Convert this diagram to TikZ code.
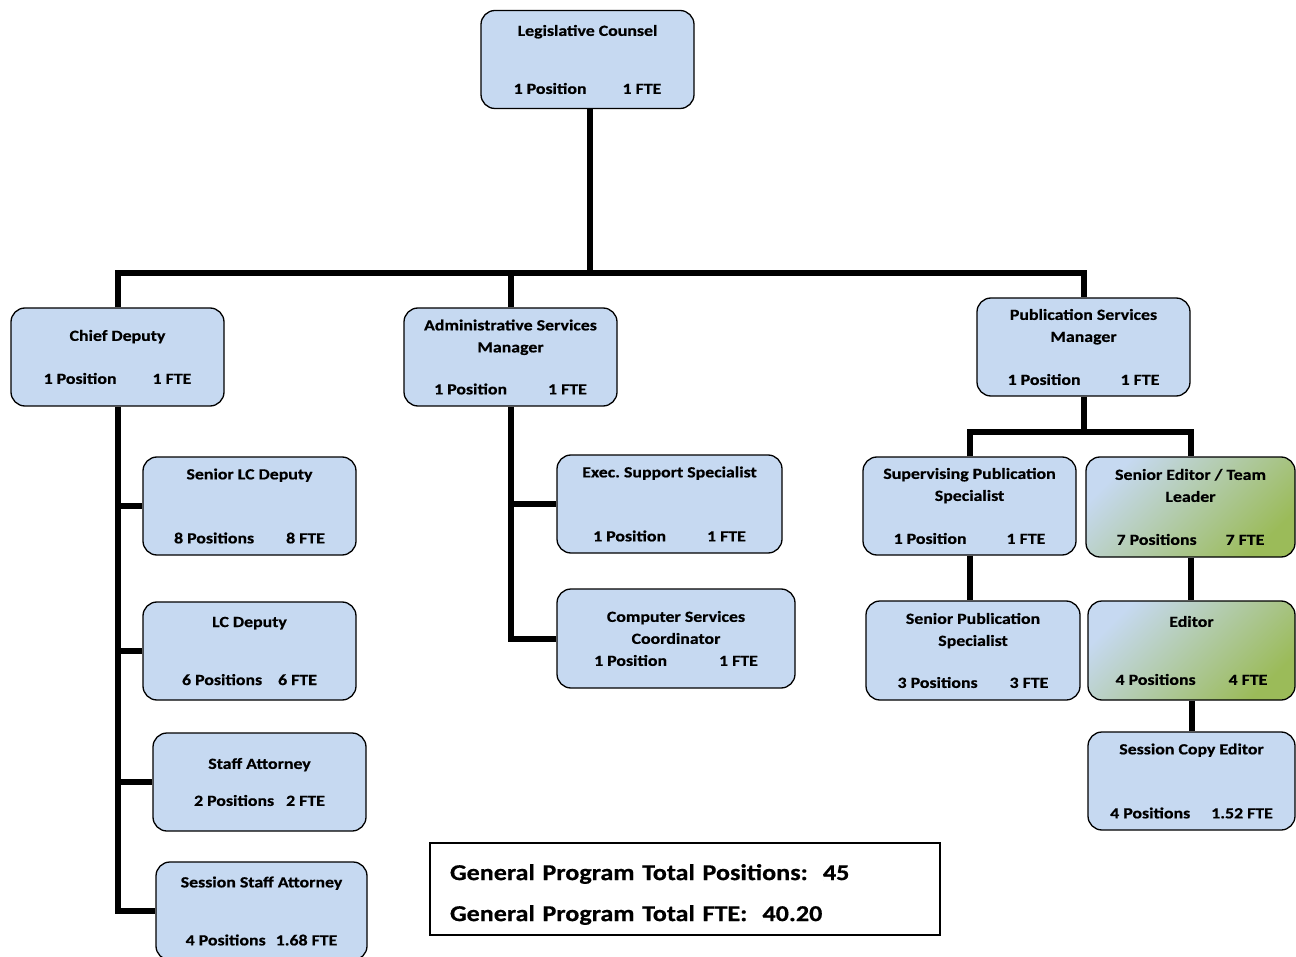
\documentclass[tikz,border=0pt]{standalone}
\usepackage{fontspec}
\setmainfont{Carlito}[FakeStretch=1.15, BoldFeatures={FakeBold=0.6}]
\frenchspacing
\definecolor{boxblue}{HTML}{C6D9F1}
\definecolor{boxgreen}{HTML}{9BBB59}
\tikzset{
  orgbox/.style={draw, line width=1.3pt, rounded corners=14pt, fill=boxblue,
    align=center, inner sep=0pt, minimum width=213pt, minimum height=98pt,
    font=\fontsize{15.5}{22}\selectfont\bfseries},
  greenbox/.style={orgbox, top color=boxblue, bottom color=boxgreen, shading angle=45},
  link/.style={line width=6pt},
  totals/.style={draw, line width=1.3pt, align=left, inner xsep=20pt, inner ysep=0pt,
    text width=470pt, minimum height=92pt, font=\fontsize{22.7}{41}\selectfont\bfseries},
}

\begin{document}
\begin{tikzpicture}[x=1pt, y=-1pt]
	\useasboundingbox (0,0) rectangle (1296,957);

	% top
	\node[orgbox] (lc) at (587.5,59.5) {Legislative Counsel\\[36pt]1 Position\hspace{36pt}1 FTE};

	% second row
	\node[orgbox] (cd) at (117.5,357) {Chief Deputy\\[21pt]1 Position\hspace{36pt}1 FTE};
	\node[orgbox] (asm) at (510.5,357) {Administrative Services\\Manager\\[20pt]1 Position\hspace{41pt}1 FTE};
	\node[orgbox] (psm) at (1083.5,347) {Publication Services\\Manager\\[21pt]1 Position\hspace{40pt}1 FTE};

	% chief deputy staff
	\node[orgbox] (slc) at (249.5,506) {Senior LC Deputy\\[42pt]8 Positions\hspace{32pt}8 FTE};
	\node[orgbox] (lcd) at (249.5,651) {LC Deputy\\[36pt]6 Positions\hspace{16pt}6 FTE};
	\node[orgbox] (sa) at (259.5,782) {Staff Attorney\\[15pt]2 Positions\hspace{12pt}2 FTE};
	\node[orgbox, minimum width=211pt] (ssa) at (261.5,911) {Session Staff Attorney\\[36pt]4 Positions\hspace{10pt}1.68 FTE};

	% administrative staff
	\node[orgbox, minimum width=225pt] (esp) at (669.5,504) {Exec. Support Specialist\\[42pt]1 Position\hspace{41pt}1 FTE};
	\node[orgbox, minimum width=238pt, minimum height=99pt] (csc) at (676,638.5) {Computer Services\\Coordinator\\1 Position\hspace{52pt}1 FTE};

	% publication staff
	\node[orgbox] (sps) at (969.5,506) {Supervising Publication\\Specialist\\[21pt]1 Position\hspace{40pt}1 FTE};
	\node[greenbox, minimum width=209pt, minimum height=100pt] (se) at (1190.5,507) {Senior Editor / Team\\Leader\\[21pt]7 Positions\hspace{29pt}7 FTE};
	\node[orgbox, minimum width=214pt, minimum height=99pt] (spe) at (973,650.5) {Senior Publication\\Specialist\\[20pt]3 Positions\hspace{32pt}3 FTE};
	\node[greenbox, minimum width=207pt, minimum height=99pt] (ed) at (1191.5,650.5) {Editor\\[36pt]4 Positions\hspace{33pt}4 FTE};
	\node[orgbox, minimum width=207pt] (sce) at (1191.5,781) {Session Copy Editor\\[42pt]4 Positions\hspace{21pt}1.52 FTE};

	% totals
	\node[totals] (tot) at (685,889) {\rule{0pt}{27pt}General Program Total Positions:\ \ 45\\General Program Total FTE:\ \ 40.20};

	% connectors
	\coordinate (bus) at (590,273);
	\coordinate (pbus) at (1083.5,432);
	\draw[link] (lc.south -| bus) -- (bus);
	\draw[link] (cd.north) |- (bus) -| (psm.north);
	\draw[link] (asm.north) -- (asm.north |- bus);

	\draw[link] (cd.south) |- (ssa.west);
	\draw[link] (cd.south |- slc.west) -- (slc.west);
	\draw[link] (cd.south |- lcd.west) -- (lcd.west);
	\draw[link] (cd.south |- sa.west) -- (sa.west);

	\draw[link] (asm.south) |- (csc.west);
	\draw[link] (asm.south |- esp.west) -- (esp.west);

	\draw[link] (psm.south) -- (pbus);
	\draw[link] (sps.north) |- (pbus) -| (se.north);
	\draw[link] (sps.south) -- (sps.south |- spe.north);
	\draw[link] (se.south) -- (se.south |- ed.north);
	\draw[link] (ed.south) -- (ed.south |- sce.north);
\end{tikzpicture}
\end{document}
